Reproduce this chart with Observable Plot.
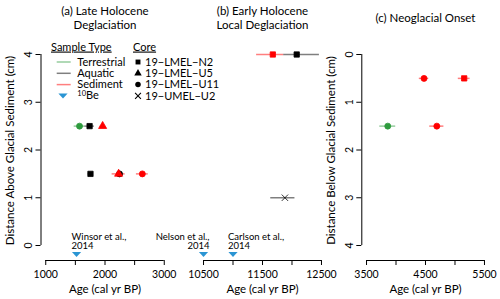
<!DOCTYPE html>
<html><head><meta charset="utf-8">
<script src="https://cdn.jsdelivr.net/npm/d3@7"></script>
<script src="https://cdn.jsdelivr.net/npm/@observablehq/plot@0.6"></script>
<style>
body{margin:0;background:#fff;}
#wrap{position:relative;width:500px;height:299px;font-family:Lato,sans-serif;overflow:hidden;}
</style></head><body><div id="wrap"></div>
<script>
const FONT = "Lato, sans-serif";
const FS = 10.5;

// categories
const typeNames = ["Terrestrial", "Aquatic", "Sediment"];
const typeColors = ["#2e9b3e", "#000000", "#ff0000"];
const coreNames = ["19−LMEL−N2", "19−LMEL−U5", "19−LMEL−U11", "19−UMEL−U2"];
const coreSymbols = ["square", "triangle", "circle", "times"];

// panel (a) Late Holocene Deglaciation (distance above glacial sediment)
const aAge   = [1570, 1740, 1960, 1755, 2245, 2230, 2630];
const aDepth = [2.5, 2.5, 2.5, 1.5, 1.5, 1.5, 1.5];
const aLo    = [1480, 1660, 1920, 1715, 2205, 2120, 2530];
const aHi    = [1660, 1820, 2000, 1795, 2285, 2340, 2730];
const aType  = ["Terrestrial", "Aquatic", "Sediment", "Aquatic", "Aquatic", "Sediment", "Sediment"];
const aCore  = ["19−LMEL−U11", "19−LMEL−N2", "19−LMEL−U5", "19−LMEL−N2", "19−LMEL−U11", "19−LMEL−U5", "19−LMEL−U11"];

// panel (b) Early Holocene Local Deglaciation
const bAge   = [11675, 12080, 11880];
const bDepth = [4, 4, 1];
const bLo    = [11400, 11860, 11640];
const bHi    = [11860, 12465, 12050];
const bType  = ["Sediment", "Aquatic", "Aquatic"];
const bCore  = ["19−LMEL−N2", "19−LMEL−N2", "19−UMEL−U2"];

// panel (c) Neoglacial Onset (distance below glacial sediment)
const cAge   = [3860, 4475, 5156, 4692];
const cDepth = [1.5, 0.5, 0.5, 1.5];
const cLo    = [3725, 4395, 5056, 4572];
const cHi    = [3995, 4555, 5256, 4812];
const cType  = ["Terrestrial", "Sediment", "Sediment", "Sediment"];
const cCore  = ["19−LMEL−U11", "19−LMEL−U11", "19−LMEL−N2", "19−LMEL−U11"];

// 10Be ages
const beAge   = [1520, 10500, 11000];
const beLabel = ["Winsor et al.,\n2014", "Nelson et al.,\n2014", "Carlson et al.,\n2014"];
const bePanel = ["a", "b", "b"];
const beAlign = ["start", "end", "start"];
const beY = -0.19;

// ticks
const aTicks = [1000, 1500, 2000, 2500, 3000], aLabels = [1000, 2000, 3000];
const bTicks = [10500, 11000, 11500, 12000, 12500], bLabels = [10500, 11500, 12500];
const cTicks = [3500, 4000, 4500, 5000, 5500], cLabels = [3500, 4500, 5500];
const yTicks = [0, 1, 2, 3, 4];

const triDown = {draw(ctx) { ctx.moveTo(-4.6, -2.5); ctx.lineTo(4.6, -2.5); ctx.lineTo(0, 2.5); ctx.closePath(); }};

function panel(o) {
  const rows = o.age.map((a, i) => ({age: a, depth: o.depth[i], lo: o.lo[i], hi: o.hi[i], type: o.type[i], core: o.core[i]}));
  const be = beAge.map((a, i) => ({age: a, label: beLabel[i], panel: bePanel[i], align: beAlign[i]})).filter(d => d.panel === o.id);
  const t0 = o.ticks[0], t1 = o.ticks[o.ticks.length - 1], pad = (t1 - t0) * 0.04;
  const dom = [t0 - pad, t1 + pad];
  const yBase = o.reverse ? 4 : 0;
  const marks = [
    Plot.ruleY([yBase], {x1: t0, x2: t1, dy: 15, stroke: "#000", strokeWidth: 1}),
    Plot.axisX({ticks: o.ticks, tickSize: 5, tickPadding: 5, tickFormat: d => o.labels.includes(d) ? String(d) : "", label: null, fontSize: FS}),
    Plot.text([o.title], {frameAnchor: "top", dy: -23.3, lineAnchor: "middle", fontSize: 11.5, lineHeight: 1.25}),
    Plot.text(["Age (cal yr BP)"], {frameAnchor: "bottom", dy: 29, lineAnchor: "middle", fontSize: 11.5}),
    Plot.ruleY(rows, {y: "depth", x1: "lo", x2: "hi", stroke: "type", strokeOpacity: 0.5, strokeWidth: 1.5}),
    Plot.dot(rows, {x: "age", y: "depth", fill: "type", stroke: "type", symbol: "core", r: 3, strokeWidth: 0.8}),
  ];
  if (o.ylabel) {
    marks.push(
      Plot.ruleX([dom[0]], {y1: 0, y2: 4, stroke: "#000"}),
      Plot.axisY({ticks: yTicks, tickSize: 5, tickRotate: -90, tickFormat: d => String(d), label: null, fontSize: FS}),
      Plot.text([o.ylabel], {frameAnchor: "left", textAnchor: "middle", rotate: -90, dx: -30.5, lineAnchor: "middle", fontSize: 11.5})
    );
  }
  if (be.length) {
    const beStart = be.filter(d => d.align === "start");
    const beEnd = be.filter(d => d.align === "end");
    marks.push(
      Plot.dot(be, {x: "age", y: () => beY, symbol: triDown, fill: "#2b95d3", stroke: "none"}),
      Plot.text(beStart, {x: "age", y: () => beY, text: "label", textAnchor: "start", dx: -5, dy: -13, lineAnchor: "middle", lineHeight: 1.0, fontSize: 9.5}),
      Plot.text(beEnd, {x: "age", y: () => beY, text: "label", textAnchor: "end", dx: 6, dy: -13, lineAnchor: "middle", lineHeight: 1.0, fontSize: 9.5})
    );
  }
  const svg = Plot.plot({
    width: 500, height: 299,
    marginLeft: o.left, marginRight: 500 - o.right, marginTop: 40, marginBottom: 39,
    x: {domain: dom, axis: null},
    y: {domain: [0, 4], range: o.reverse ? [54, 245] : [245, 54], axis: null},
    color: {domain: typeNames, range: typeColors},
    symbol: {domain: coreNames, range: coreSymbols},
    style: {fontFamily: FONT, fontSize: FS + "px", background: "transparent", position: "absolute", left: "0px", top: "0px", overflow: "visible", color: "#000"},
    marks
  });
  return svg;
}

const wrap = document.getElementById("wrap");
wrap.append(panel({id: "a", age: aAge, depth: aDepth, lo: aLo, hi: aHi, type: aType, core: aCore, ticks: aTicks, labels: aLabels,
  left: 40.5, right: 168.5, title: "(a) Late Holocene\nDeglaciation", ylabel: "Distance Above Glacial Sediment (cm)"}));
wrap.append(panel({id: "b", age: bAge, depth: bDepth, lo: bLo, hi: bHi, type: bType, core: bCore, ticks: bTicks, labels: bLabels,
  left: 198.3, right: 325.7, title: "(b) Early Holocene\nLocal Deglaciation"}));
wrap.append(panel({id: "c", age: cAge, depth: cDepth, lo: cLo, hi: cHi, type: cType, core: cCore, ticks: cTicks, labels: cLabels,
  left: 361.3, right: 488.7, reverse: true, title: "(c) Neoglacial Onset", ylabel: "Distance Below Glacial Sediment (cm)"}));

// legend
const leg = d3.select(wrap).append("svg")
  .attr("width", 500).attr("height", 299)
  .style("position", "absolute").style("left", 0).style("top", 0)
  .style("font-family", FONT).style("font-size", "11px");
const rowsY = [62, 73.3, 84.6, 95.9];
leg.append("text").attr("x", 51).attr("y", 46.7).attr("dy", "0.35em").text("Sample Type").style("text-decoration", "underline");
leg.append("text").attr("x", 133).attr("y", 46.7).attr("dy", "0.35em").text("Core").style("text-decoration", "underline");
typeNames.forEach((n, i) => {
  leg.append("line").attr("x1", 56.7).attr("x2", 70.7).attr("y1", rowsY[i]).attr("y2", rowsY[i])
    .attr("stroke", typeColors[i]).attr("stroke-opacity", 0.5).attr("stroke-width", 1.5);
  leg.append("text").attr("x", 77.3).attr("y", rowsY[i]).attr("dy", "0.35em").text(n);
});
leg.append("path").attr("transform", `translate(63,${rowsY[3]})`).attr("d", "M-4.6,-2.5L4.6,-2.5L0,2.5Z").attr("fill", "#2b95d3");
const beT = leg.append("text").attr("x", 77.3).attr("y", rowsY[3] + 1).attr("dy", "0.35em");
beT.append("tspan").text("10").attr("font-size", "7.5px").attr("dy", "-0.1em");
beT.append("tspan").text("Be").attr("dy", "0.3em");
coreNames.forEach((n, i) => {
  const sym = d3.symbol(coreSymbols[i] === "square" ? d3.symbolSquare : coreSymbols[i] === "triangle" ? d3.symbolTriangle : coreSymbols[i] === "circle" ? d3.symbolCircle : d3.symbolTimes, 24);
  const p = leg.append("path").attr("transform", `translate(138,${rowsY[i]})`).attr("d", sym());
  if (coreSymbols[i] === "times") p.attr("fill", "none").attr("stroke", "#000").attr("stroke-width", 1.1);
  else p.attr("fill", "#000");
  leg.append("text").attr("x", 145).attr("y", rowsY[i]).attr("dy", "0.35em").text(n);
});
</script></body></html>
